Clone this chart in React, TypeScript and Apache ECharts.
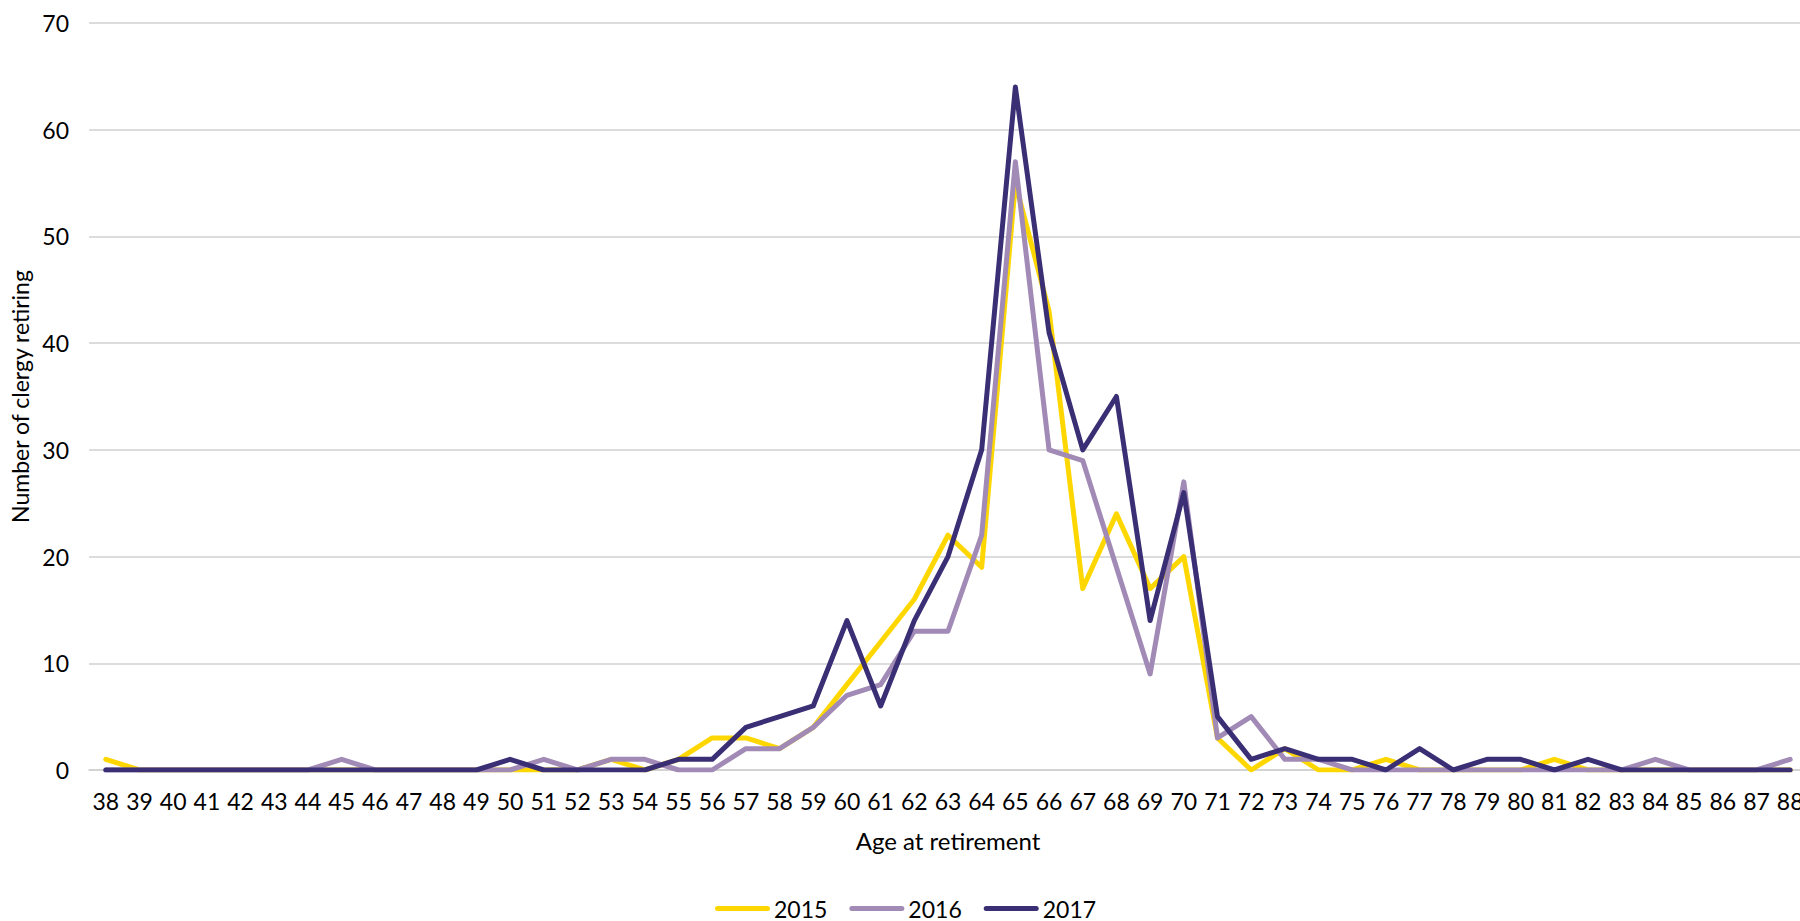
import React, { useEffect, useRef } from "react";
import * as echarts from "echarts";

// Age at retirement (x categories)
const ages: string[] = [];
for (let a = 38; a <= 88; a++) ages.push(String(a));

// Number of clergy retiring at each age, per year
const retirements2015 = [
  1, 0, 0, 0, 0, 0, 0, 0, 0, 0, 0, 0, 0, 0, 0,
  1, 0, 1, 3, 3, 2, 4, 8, 12, 16, 22, 19, 55, 43, 17, 24, 17, 20, 3, 0,
  2, 0, 0, 1, 0, 0, 0, 0, 1, 0, 0, 0, 0, 0, 0, 0,
];
const retirements2016 = [
  0, 0, 0, 0, 0, 0, 0, 1, 0, 0, 0, 0, 0,
  1, 0, 1, 1, 0, 0, 2, 2, 4, 7, 8, 13, 13, 22, 57, 30, 29, 19, 9, 27, 3, 5, 1, 1,
  0, 0, 0, 0, 0, 0, 0, 0, 0, 1, 0, 0, 0, 1,
];
const retirements2017 = [
  0, 0, 0, 0, 0, 0, 0, 0, 0, 0, 0, 0, 1, 0, 0, 0, 0,
  1, 1, 4, 5, 6, 14, 6, 14, 20, 30, 64, 41, 30, 35, 14, 26, 5, 1, 2, 1, 1, 0, 2, 0, 1, 1, 0, 1,
  0, 0, 0, 0, 0, 0,
];

const seriesNames = ["2015", "2016", "2017"];
const seriesColors = ["#FFD700", "#A18AB5", "#3A2F74"];

const FONT = "Lato, 'Open Sans', sans-serif";
const GRID_COLOR = "#D0D0D0";

export default function App() {
  const ref = useRef<HTMLDivElement>(null);

  useEffect(() => {
    if (!ref.current) return;
    const chart = echarts.init(ref.current, undefined, { renderer: "svg" });
    const values = [retirements2015, retirements2016, retirements2017];

    chart.setOption({
      animation: false,
      backgroundColor: "#FFFFFF",
      textStyle: { fontFamily: FONT, color: "#000000" },
      // the plot runs slightly past the right edge of the visible frame
      grid: { left: 89, top: 23, width: 1718, height: 747, containLabel: false },
      legend: {
        top: 897,
        left: 715,
        padding: 0,
        itemWidth: 55,
        itemHeight: 5,
        itemGap: 22,
        icon: "path://M2.5,0H52.5A2.5,2.5,0,0,1,52.5,5H2.5A2.5,2.5,0,0,1,2.5,0Z",
        textStyle: {
          fontFamily: FONT,
          fontSize: 23,
          lineHeight: 23,
          color: "#000000",
          padding: [0, 0, 0, -1],
        },
        data: seriesNames,
      },
      xAxis: {
        type: "category",
        data: ages,
        boundaryGap: true,
        name: "Age at retirement",
        nameLocation: "middle",
        nameGap: 58,
        nameTextStyle: { fontFamily: FONT, fontSize: 24, color: "#000000" },
        axisLine: { show: true, lineStyle: { color: GRID_COLOR, width: 1.5 } },
        axisTick: { show: false },
        axisLabel: { interval: 0, fontFamily: FONT, fontSize: 23, color: "#000000", margin: 19 },
      },
      yAxis: {
        type: "value",
        min: 0,
        max: 70,
        interval: 10,
        name: "Number of clergy retiring",
        nameLocation: "middle",
        nameGap: 58,
        nameTextStyle: { fontFamily: FONT, fontSize: 23, color: "#000000" },
        axisLine: { show: false },
        axisTick: { show: false },
        axisLabel: { fontFamily: FONT, fontSize: 23, color: "#000000", margin: 20 },
        splitLine: { lineStyle: { color: GRID_COLOR, width: 1.5 } },
      },
      series: seriesNames.map((name, i) => ({
        name,
        type: "line",
        data: values[i],
        symbol: "none",
        showSymbol: false,
        color: seriesColors[i],
        lineStyle: { color: seriesColors[i], width: 5, join: "round", cap: "round" },
        itemStyle: { color: seriesColors[i] },
      })),
    });

    return () => chart.dispose();
  }, []);

  return (
    <div
      style={{
        position: "fixed",
        left: 0,
        top: 0,
        width: 1800,
        height: 921,
        overflow: "hidden",
        background: "#FFFFFF",
      }}
    >
      <div ref={ref} style={{ width: 1830, height: 921 }} />
    </div>
  );
}
